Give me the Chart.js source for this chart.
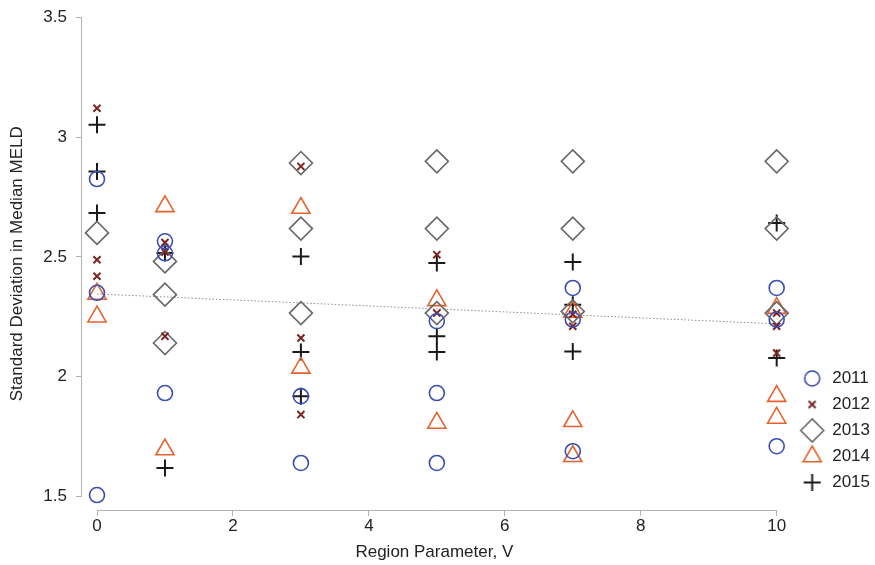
<!DOCTYPE html>
<html>
<head>
<meta charset="utf-8">
<script src="https://cdn.jsdelivr.net/npm/chart.js"></script>
<style>
  html, body { margin: 0; padding: 0; background: #ffffff; }
  #wrap { width: 875px; height: 565px; }
</style>
</head>
<body>
<div id="wrap"><canvas id="c" width="875" height="565"></canvas></div>
<script>
// Region parameter values (x positions of the point columns)
const regionV = [0, 1, 3, 5, 7, 10];

// Standard deviation in median MELD, per year, one list per region value
const sd2011 = [[2.825, 2.35, 1.505], [2.565, 2.515, 1.931], [1.918, 1.639], [2.231, 1.931, 1.639], [2.37, 2.238, 1.688], [2.37, 2.238, 1.709]];
const sd2012 = [[3.121, 2.488, 2.419], [2.56, 2.52, 2.168], [2.878, 2.161, 1.841], [2.509, 2.265], [2.26, 2.21], [2.265, 2.21, 2.098]];
const sd2013 = [[2.6], [2.481, 2.342, 2.14], [2.892, 2.618, 2.265], [2.899, 2.618, 2.265], [2.899, 2.618, 2.272], [2.899, 2.618, 2.265]];
const sd2014 = [[2.345, 2.25], [2.711, 1.695], [2.704, 2.036], [2.318, 1.806], [2.27, 1.813, 1.667], [2.286, 1.918, 1.827]];
const sd2015 = [[3.052, 2.857, 2.683], [2.516, 1.618], [2.502, 2.103, 1.918], [2.474, 2.168, 2.103], [2.478, 2.3, 2.105], [2.641, 2.077]];

// Fitted trend across all years
const trendV = [0, 10];
const trendSD = [2.345, 2.22];

// Axis ticks
const xTicks = [0, 2, 4, 6, 8, 10];
const yTicks = [1.5, 2, 2.5, 3, 3.5];

const FONT = "'Liberation Sans', Arial, Helvetica, sans-serif";
Chart.defaults.font.family = FONT;
Chart.defaults.font.size = 17;
Chart.defaults.color = '#222222';

const AXIS_GRAY = '#b3b3b3';
const GAP_LEFT = 15;   // gap between the y axis line and the first data column
const GAP_RIGHT = 10;  // space kept right of the last data column
const GAP_BOTTOM = 15; // gap between the lowest y tick and the x axis line

function toPoints(series) {
  const pts = [];
  series.forEach((vals, i) => vals.forEach(v => pts.push({ x: regionV[i], y: v })));
  return pts;
}

const styles = [
  { label: '2011', data: sd2011, pointStyle: 'circle',   radius: 7.5,  color: '#3a4cb6', width: 1.6 },
  { label: '2012', data: sd2012, pointStyle: 'crossRot', radius: 5,    color: '#7a2424', width: 2   },
  { label: '2013', data: sd2013, pointStyle: 'rectRot',  radius: 11.5, color: '#686868', width: 1.6 },
  { label: '2014', data: sd2014, pointStyle: 'triangle', radius: 10.5, color: '#e5622c', width: 1.6 },
  { label: '2015', data: sd2015, pointStyle: 'cross',    radius: 8.5,  color: '#1a1a1a', width: 2   }
];

const datasets = styles.map(s => ({
  type: 'scatter',
  label: s.label,
  data: toPoints(s.data),
  pointStyle: s.pointStyle,
  pointRadius: s.radius,
  pointHoverRadius: s.radius,
  pointBorderWidth: s.width,
  pointHoverBorderWidth: s.width,
  borderColor: s.color,
  pointBorderColor: s.color,
  backgroundColor: 'rgba(0,0,0,0)',
  pointBackgroundColor: 'rgba(0,0,0,0)',
  showLine: false
}));

datasets.push({
  type: 'line',
  label: '',
  data: trendV.map((v, i) => ({ x: v, y: trendSD[i] })),
  borderColor: '#8c8c8c',
  borderWidth: 1,
  borderDash: [1.5, 2],
  pointRadius: 0,
  fill: false,
  order: 10
});

// Legend symbols drawn at each series' own marker size
function markerCanvas(s) {
  const size = Math.ceil(s.radius * 2 + s.width * 2 + 2);
  const cv = document.createElement('canvas');
  cv.width = size; cv.height = size;
  const g = cv.getContext('2d');
  g.strokeStyle = s.color;
  g.fillStyle = 'rgba(0,0,0,0)';
  g.lineWidth = s.width;
  if (Chart.helpers && Chart.helpers.drawPoint) {
    Chart.helpers.drawPoint(g, { pointStyle: s.pointStyle, radius: s.radius, rotation: 0, borderWidth: s.width }, size / 2, size / 2);
  }
  return cv;
}
const legendMarkers = {};
styles.forEach(s => { legendMarkers[s.label] = markerCanvas(s); });

// Stata-style detached axis lines spanning the tick range only
const axisLines = {
  id: 'axisLines',
  afterLayout(chart) {
    // nudge the legend block: slightly right, and lifted off the x axis
    const lg = chart.legend;
    if (lg) {
      lg.left += 5; lg.right += 5;
      lg.bottom -= 10; lg.height -= 10;
    }
  },
  beforeDatasetsDraw(chart) {
    const { ctx, chartArea } = chart;
    const x = chart.scales.x, y = chart.scales.y;
    ctx.save();
    ctx.strokeStyle = AXIS_GRAY;
    ctx.lineWidth = 1;
    ctx.beginPath();
    const xl = Math.round(chartArea.left) - 0.5;
    ctx.moveTo(xl, y.getPixelForValue(yTicks[0]));
    ctx.lineTo(xl, y.getPixelForValue(yTicks[yTicks.length - 1]));
    const yb = Math.round(chartArea.bottom) + 0.5;
    ctx.moveTo(x.getPixelForValue(xTicks[0]), yb);
    ctx.lineTo(x.getPixelForValue(xTicks[xTicks.length - 1]), yb);
    ctx.stroke();
    ctx.restore();
  }
};

new Chart(document.getElementById('c'), {
  data: { datasets },
  plugins: [axisLines],
  options: {
    responsive: false,
    animation: false,
    devicePixelRatio: 1,
    layout: { padding: { top: 16, left: 0, right: 0, bottom: 0 } },
    plugins: {
      tooltip: { enabled: false },
      legend: {
        position: 'right',
        align: 'end',
        fullSize: false,
        labels: {
          usePointStyle: true,
          pointStyleWidth: 23,
          boxHeight: 16,
          padding: 9,
          color: '#222222',
          font: { size: 17 },
          filter: item => item.text !== '',
          generateLabels(chart) {
            const items = Chart.defaults.plugins.legend.labels.generateLabels(chart);
            if (Chart.helpers && Chart.helpers.drawPoint) {
              items.forEach(it => { if (legendMarkers[it.text]) it.pointStyle = legendMarkers[it.text]; });
            }
            return items;
          }
        }
      }
    },
    scales: {
      x: {
        type: 'linear',
        position: 'bottom',
        bounds: 'data',
        afterDataLimits(s) {
          const w = s.width;
          if (w > 4 * GAP_LEFT) {
            const lo = xTicks[0], hi = xTicks[xTicks.length - 1];
            const ppu = (w - GAP_LEFT - GAP_RIGHT) / (hi - lo);
            s.min = lo - GAP_LEFT / ppu;
            s.max = hi + GAP_RIGHT / ppu;
          }
        },
        afterBuildTicks(s) { s.ticks = xTicks.map(v => ({ value: v })); },
        afterFit(s) { s.height = 55; },
        border: { display: false },
        grid: { drawOnChartArea: false, drawTicks: true, tickLength: 6, color: AXIS_GRAY, lineWidth: 1 },
        ticks: { padding: 2, color: '#222222', font: { size: 17, lineHeight: 1 }, maxRotation: 0, callback: v => String(v) },
        title: { display: true, text: 'Region Parameter, V', color: '#222222', padding: { top: 0, bottom: 2 }, font: { size: 17, lineHeight: 1.2 } }
      },
      y: {
        type: 'linear',
        position: 'left',
        bounds: 'data',
        afterDataLimits(s) {
          const h = s.height;
          if (h > 4 * GAP_BOTTOM) {
            const lo = yTicks[0], hi = yTicks[yTicks.length - 1];
            const ppu = (h - GAP_BOTTOM) / (hi - lo);
            s.min = lo - GAP_BOTTOM / ppu;
            s.max = hi;
          }
        },
        afterBuildTicks(s) { s.ticks = yTicks.map(v => ({ value: v })); },
        afterFit(s) { s.width = 82; },
        border: { display: false },
        grid: { drawOnChartArea: false, drawTicks: true, tickLength: 6, color: AXIS_GRAY, lineWidth: 1 },
        ticks: { padding: 9, color: '#222222', font: { size: 17, lineHeight: 1 }, callback: v => String(v) },
        title: { display: true, text: 'Standard Deviation in Median MELD', color: '#222222', padding: { top: 9, bottom: 0 }, font: { size: 17, lineHeight: 1 } }
      }
    }
  }
});
</script>
</body>
</html>
